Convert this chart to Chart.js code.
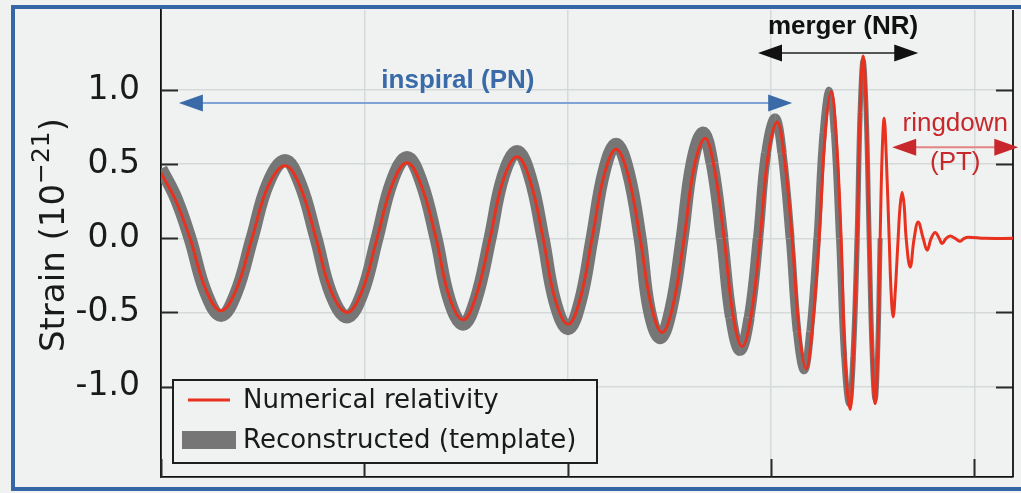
<!DOCTYPE html>
<html>
<head>
<meta charset="utf-8">
<script src="https://cdn.jsdelivr.net/npm/chart.js@4/dist/chart.umd.min.js"></script>
<style>
  html, body { margin: 0; padding: 0; background: #eff2f1; overflow: hidden; }
  #wrap { position: relative; width: 1021px; height: 493px; }
  #chart { position: absolute; left: 0; top: 0; }
  #frame {
    position: absolute; left: 11px; top: 5px; width: 1100px; height: 486px;
    border: 4px solid #3566a6; box-sizing: border-box; pointer-events: none;
  }
</style>
</head>
<body>
<div id="wrap">
  <canvas id="chart" width="1021" height="493"></canvas>
  <div id="frame"></div>
</div>
<script>
// Time axis (s) and strain (10^-21): numerical-relativity waveform
const nrTime = [
  0.25000, 0.25369, 0.25713, 0.26107, 0.26476, 0.26845, 0.27238, 0.27632, 0.28050, 0.28419,
  0.28812, 0.29181, 0.29575, 0.29943, 0.30312, 0.30681, 0.31050, 0.31395, 0.31763, 0.32083,
  0.32427, 0.32747, 0.33091, 0.33411, 0.33756, 0.34075, 0.34395, 0.34690, 0.35010, 0.35305,
  0.35600, 0.35895, 0.36190, 0.36486, 0.36781, 0.37051, 0.37322, 0.37592, 0.37863, 0.38109,
  0.38379, 0.38601, 0.38847, 0.39068, 0.39289, 0.39511, 0.39732, 0.39929, 0.40150, 0.40322,
  0.40519, 0.40691, 0.40863, 0.41011, 0.41183, 0.41331, 0.41478, 0.41601, 0.41724, 0.41822,
  0.41945, 0.42019, 0.42118, 0.42191, 0.42265, 0.42339, 0.42413, 0.42486, 0.42560, 0.42622,
  0.42683, 0.42732, 0.42782, 0.42831, 0.42905, 0.42954, 0.43003, 0.43052, 0.43126, 0.43175,
  0.43224, 0.43274, 0.43323, 0.43421, 0.43520, 0.43618, 0.43741, 0.43839, 0.43938, 0.44036,
  0.44134, 0.44208, 0.44306, 0.44405, 0.44528, 0.44651, 0.44749, 0.44848, 0.45266, 0.45950
];
const nrStrain = [
  0.44, 0.25, 0.00, -0.35, -0.49, -0.35, 0.00, 0.35, 0.49, 0.35,
  0.00, -0.355, -0.50, -0.355, 0.00, 0.36, 0.51, 0.36, 0.00, -0.39,
  -0.55, -0.39, 0.00, 0.39, 0.55, 0.39, 0.00, -0.41, -0.58, -0.41,
  0.00, 0.425, 0.60, 0.425, 0.00, -0.45, -0.635, -0.45, 0.00, 0.48,
  0.675, 0.48, 0.00, -0.52, -0.73, -0.52, 0.00, 0.56, 0.785, 0.56,
  0.00, -0.62, -0.88, -0.62, 0.00, 0.70, 0.99, 0.70, 0.00, -0.82,
  -1.155, -0.82, 0.00, 0.87, 1.23, 0.87, 0.00, -0.79, -1.115, -0.79,
  0.00, 0.57, 0.81, 0.57, 0.00, -0.37, -0.53, -0.37, 0.00, 0.22,
  0.31, 0.22, 0.00, -0.195, 0.00, 0.11, 0.00, -0.08, 0.00, 0.04,
  0.00, -0.035, 0.00, 0.015, 0.00, -0.02, 0.00, 0.008, 0.00, 0.00
];

// Reconstructed template waveform
const templateTime = [
  0.25000, 0.25369, 0.25713, 0.26107, 0.26476, 0.26845, 0.27238, 0.27632, 0.28050, 0.28419,
  0.28812, 0.29181, 0.29575, 0.29943, 0.30312, 0.30681, 0.31050, 0.31395, 0.31763, 0.32083,
  0.32427, 0.32747, 0.33091, 0.33411, 0.33756, 0.34075, 0.34395, 0.34690, 0.35010, 0.35305,
  0.35600, 0.35895, 0.36190, 0.36486, 0.36781, 0.37001, 0.37272, 0.37542, 0.37813, 0.38059,
  0.38329, 0.38551, 0.38797, 0.39018, 0.39239, 0.39461, 0.39682, 0.39879, 0.40100, 0.40272,
  0.40469, 0.40641, 0.40813, 0.40961, 0.41133, 0.41281, 0.41428, 0.41551, 0.41674, 0.41797,
  0.41920, 0.42019, 0.42118, 0.42191, 0.42265, 0.42339, 0.42413, 0.42486, 0.42560, 0.42622,
  0.42683
];
const templateStrain = [
  0.47, 0.27, 0.00, -0.37, -0.52, -0.37, 0.00, 0.37, 0.525, 0.37,
  0.00, -0.375, -0.53, -0.375, 0.00, 0.385, 0.545, 0.385, 0.00, -0.41,
  -0.58, -0.41, 0.00, 0.415, 0.585, 0.415, 0.00, -0.43, -0.61, -0.43,
  0.00, 0.45, 0.635, 0.45, 0.00, -0.475, -0.67, -0.475, 0.00, 0.505,
  0.71, 0.505, 0.00, -0.535, -0.755, -0.535, 0.00, 0.575, 0.81, 0.575,
  0.00, -0.63, -0.89, -0.63, 0.00, 0.71, 1.00, 0.71, 0.00, -0.80,
  -1.12, -0.80, 0.00, 0.85, 1.20, 0.85, 0.00, -0.77, -1.09, -0.77,
  0.00
];

const seriesLabels = ['Numerical relativity', 'Reconstructed (template)'];
const yTickValues = [-1.0, -0.5, 0.0, 0.5, 1.0];

const BG = '#eff2f1';
const RED = '#e8321f';
const GREY = '#767676';

// Phase annotations (data coordinates)
const phases = [
  { text: 'inspiral (PN)', t: 0.3230, y: 1.06, from: 0.2544, to: 0.4052, ay: 0.912,
    color: '#3a6aa8', shaft: '#7fa3d2', bold: true },
  { text: 'merger (NR)', t: 0.4177, y: 1.425, from: 0.3968, to: 0.4362, ay: 1.25,
    color: '#111111', shaft: '#555555', bold: true },
  { text: 'ringdown', t: 0.4453, y: 0.775, from: 0.4298, to: 0.4608, ay: 0.615,
    color: '#c8282b', shaft: '#e38585', bold: false, sub: '(PT)', subY: 0.51 }
];

// stroke width of the template band, narrowing through the merger
function templateWidth(t) {
  if (t < 0.385) return 13;
  if (t > 0.4225) return 5;
  return 13 - 8 * (t - 0.385) / 0.0375;
}

function arrowHead(ctx, x, y, dir, color) {
  ctx.fillStyle = color;
  ctx.beginPath();
  ctx.moveTo(x, y);
  ctx.lineTo(x - dir * 24, y - 8.5);
  ctx.lineTo(x - dir * 24, y + 8.5);
  ctx.closePath();
  ctx.fill();
}

const framePlugin = {
  id: 'frameDecor',
  beforeDatasetsDraw(chart) {
    const { ctx, chartArea: a, scales: { x, y } } = chart;
    ctx.save();
    ctx.strokeStyle = '#2a2a2a';
    ctx.lineWidth = 2;
    // inward tick marks
    y.ticks.forEach(tk => {
      const py = Math.round(y.getPixelForValue(tk.value)) + 0.5;
      ctx.beginPath(); ctx.moveTo(a.left, py); ctx.lineTo(a.left + 17, py); ctx.stroke();
      ctx.beginPath(); ctx.moveTo(a.right, py); ctx.lineTo(a.right - 17, py); ctx.stroke();
    });
    x.ticks.forEach(tk => {
      const px = Math.round(x.getPixelForValue(tk.value)) + 0.5;
      ctx.beginPath(); ctx.moveTo(px, a.bottom); ctx.lineTo(px, a.bottom - 18); ctx.stroke();
    });
    // right spine
    ctx.strokeStyle = '#111';
    ctx.lineWidth = 1.8;
    ctx.beginPath(); ctx.moveTo(a.right, a.top); ctx.lineTo(a.right, a.bottom); ctx.stroke();
    ctx.restore();
  },
  afterDatasetsDraw(chart) {
    const { ctx, scales: { x, y } } = chart;
    ctx.save();
    // phase labels with arrows
    phases.forEach(p => {
      const x1 = x.getPixelForValue(p.from), x2 = x.getPixelForValue(p.to);
      const ay = y.getPixelForValue(p.ay);
      ctx.strokeStyle = p.shaft;
      ctx.lineWidth = 2;
      ctx.beginPath(); ctx.moveTo(x1 + 10, ay); ctx.lineTo(x2 - 10, ay); ctx.stroke();
      arrowHead(ctx, x1, ay, -1, p.color);
      arrowHead(ctx, x2, ay, 1, p.color);
      ctx.fillStyle = p.color;
      ctx.font = (p.bold ? 'bold ' : '') + '26px "Liberation Sans", Arial, sans-serif';
      ctx.textAlign = 'center';
      ctx.textBaseline = 'middle';
      ctx.fillText(p.text, x.getPixelForValue(p.t), y.getPixelForValue(p.y));
      if (p.sub) ctx.fillText(p.sub, x.getPixelForValue(p.t), y.getPixelForValue(p.subY));
    });

    // legend box
    const lx = 173, ly = 380, lw = 424, lh = 83;
    ctx.fillStyle = BG;
    ctx.fillRect(lx, ly, lw, lh);
    ctx.strokeStyle = '#1e1e1e';
    ctx.lineWidth = 2;
    ctx.strokeRect(lx, ly, lw, lh);
    ctx.strokeStyle = RED;
    ctx.lineWidth = 3;
    ctx.beginPath(); ctx.moveTo(188, 400); ctx.lineTo(230, 400); ctx.stroke();
    ctx.fillStyle = GREY;
    ctx.fillRect(182, 431, 54, 18);
    ctx.fillStyle = '#1a1a1a';
    ctx.font = '26px "DejaVu Sans", sans-serif';
    ctx.textAlign = 'left';
    ctx.textBaseline = 'middle';
    ctx.fillText(seriesLabels[0], 243, 401);
    ctx.fillText(seriesLabels[1], 243, 441);

    // y-axis title with superscript exponent
    ctx.translate(52, 235);
    ctx.rotate(-Math.PI / 2);
    const big = '34px "DejaVu Sans", sans-serif';
    const small = '25px "DejaVu Sans", sans-serif';
    const partA = 'Strain (10', partB = '\u221221', partC = ')';
    ctx.font = big; const wA = ctx.measureText(partA).width, wC = ctx.measureText(partC).width;
    ctx.font = small; const wB = ctx.measureText(partB).width;
    let sx = -(wA + wB + wC) / 2;
    ctx.fillStyle = '#1a1a1a';
    ctx.textAlign = 'left';
    ctx.textBaseline = 'alphabetic';
    ctx.font = big; ctx.fillText(partA, sx, 12); sx += wA;
    ctx.font = small; ctx.fillText(partB, sx, -3); sx += wB;
    ctx.font = big; ctx.fillText(partC, sx, 12);
    ctx.restore();
  }
};

new Chart(document.getElementById('chart'), {
  type: 'line',
  data: {
    datasets: [
      {
        label: seriesLabels[0],
        data: nrTime.map((t, i) => ({ x: t, y: nrStrain[i] })),
        borderColor: RED,
        borderWidth: 3,
        tension: 0.4,
        pointRadius: 0,
        borderCapStyle: 'round',
        borderJoinStyle: 'round'
      },
      {
        label: seriesLabels[1],
        data: templateTime.map((t, i) => ({ x: t, y: templateStrain[i] })),
        borderColor: GREY,
        borderWidth: 13,
        tension: 0.4,
        pointRadius: 0,
        borderCapStyle: 'butt',
        borderJoinStyle: 'round',
        segment: {
          borderWidth: c => templateWidth((c.p0.parsed.x + c.p1.parsed.x) / 2)
        }
      }
    ]
  },
  options: {
    responsive: false,
    animation: false,
    devicePixelRatio: 1,
    layout: { padding: { top: 10, right: 8, left: 0, bottom: 0 } },
    plugins: { legend: { display: false }, tooltip: { enabled: false } },
    scales: {
      x: {
        type: 'linear',
        min: 0.25,
        max: 0.4595,
        ticks: { display: false, stepSize: 0.05, includeBounds: false },
        grid: { color: '#d6d9d9', lineWidth: 1.5, drawTicks: false },
        border: { display: true, color: '#111', width: 1.8 },
        afterFit(s) { s.height = 16; s.paddingLeft = 0; s.paddingRight = 0; }
      },
      y: {
        min: -1.61,
        max: 1.54,
        afterBuildTicks(s) {
          s.ticks = yTickValues.map(v => ({ value: v }));
        },
        ticks: {
          padding: 21,
          color: '#1a1a1a',
          font: { family: '"DejaVu Sans", sans-serif', size: 33 },
          callback: v => Number(v).toFixed(1)
        },
        grid: { color: '#d6d9d9', lineWidth: 1.5, drawTicks: false },
        border: { display: true, color: '#111', width: 1.8 },
        afterFit(s) { s.width = 161; s.paddingTop = 0; s.paddingBottom = 0; }
      }
    }
  },
  plugins: [framePlugin]
});
</script>
</body>
</html>
